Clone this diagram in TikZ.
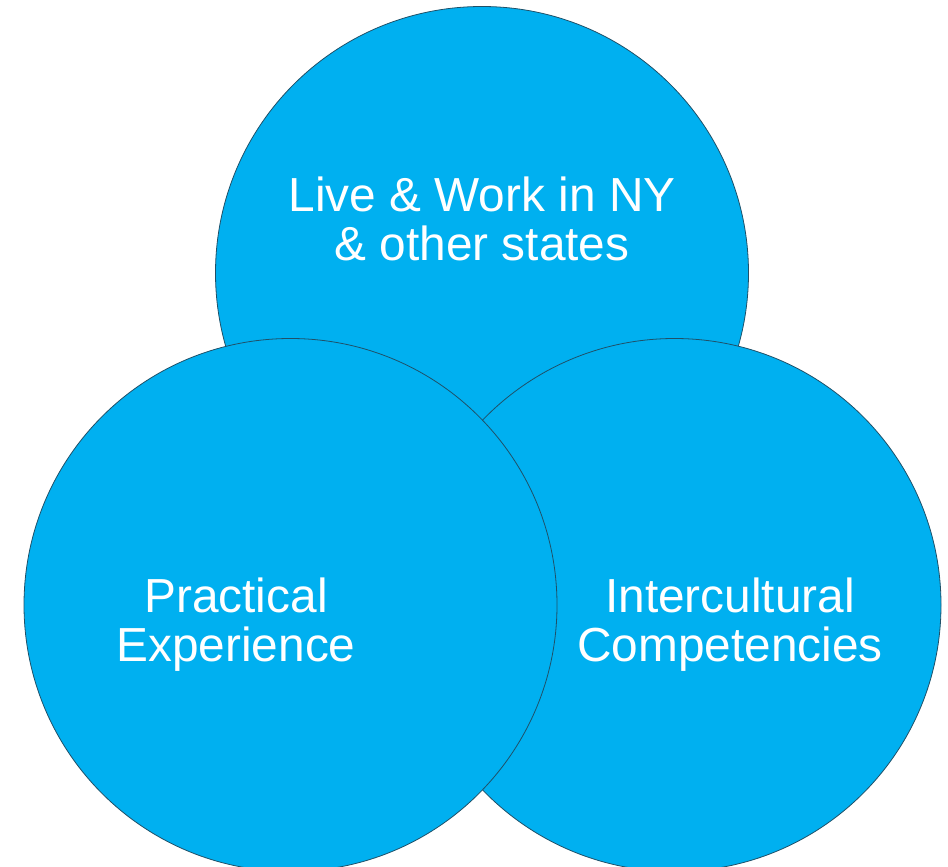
\documentclass[tikz,border=0pt]{standalone}
\usepackage{fontspec}
\setmainfont{Liberation Sans}
\definecolor{cfill}{HTML}{00B0F0}
\definecolor{cline}{HTML}{1F5068}
\begin{document}
\begin{tikzpicture}[x=1pt,y=-1pt,
  bubble/.style={circle, fill=cfill, draw=cline, line width=0.8pt, minimum size=533pt, inner sep=0pt},
  lbl/.style={text=white, align=center, inner sep=0pt, font=\fontsize{47.8}{49}\selectfont}]
\useasboundingbox (0,0) rectangle (948,867);
\node[bubble] (top) at (482,273) {};
\node[bubble] (right) at (674.5,605) {};
\node[bubble] (left) at (290.5,605) {};
\node[lbl] (ttop) at (482,218.5) {Live \& Work in NY\\\& other states};
\node[lbl] (tleft) at (236,625) {Practical\\Experience};
\node[lbl] (tright) at (730,625) {Intercultural\\Competencies};
\end{tikzpicture}
\end{document}
